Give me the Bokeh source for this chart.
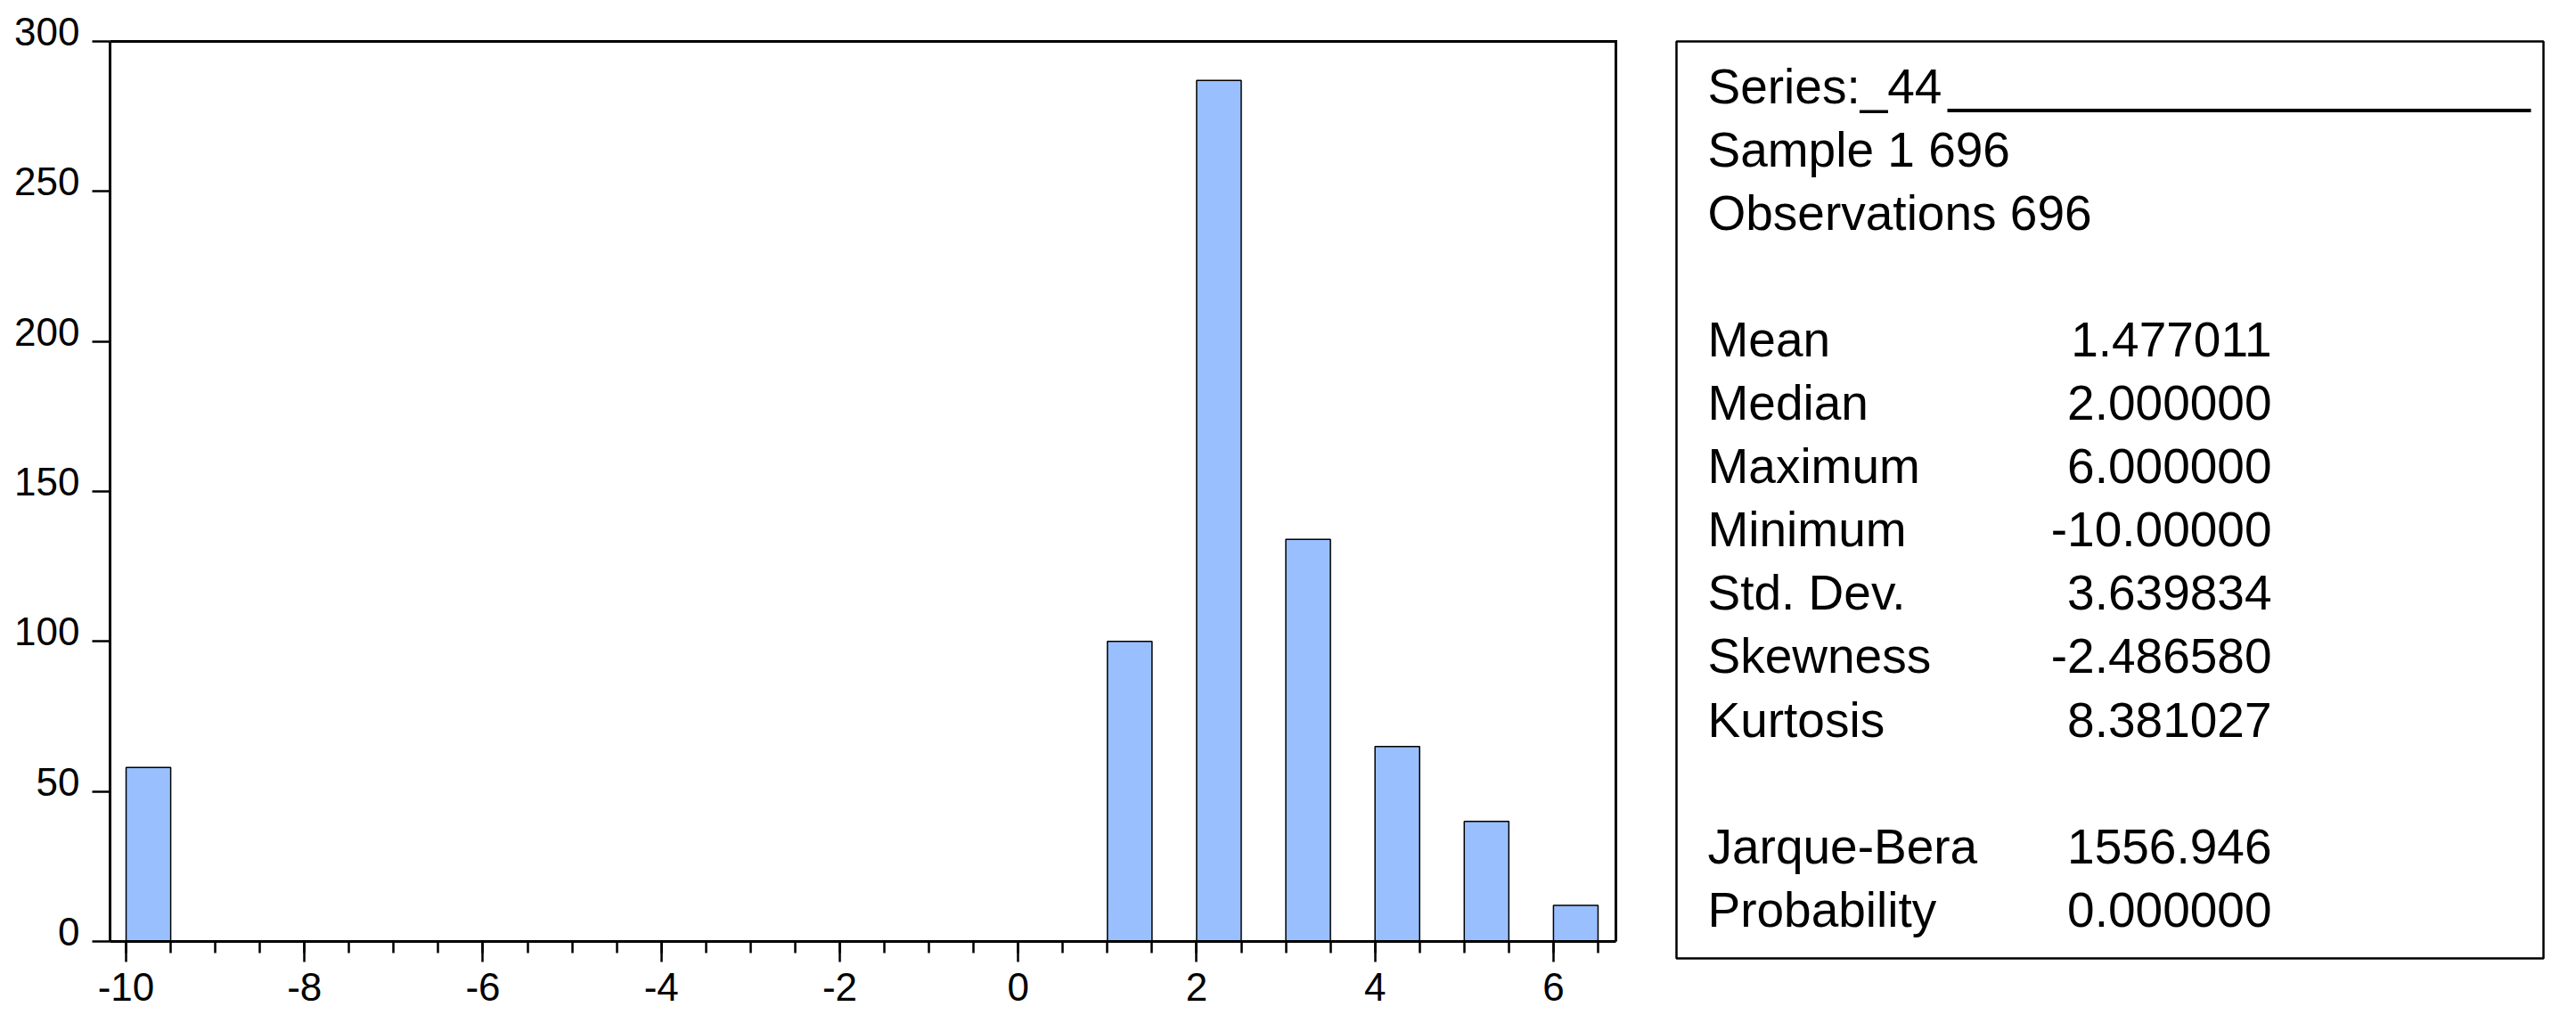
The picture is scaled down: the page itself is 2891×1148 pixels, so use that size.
from bokeh.plotting import figure
from bokeh.layouts import row
from bokeh.models import Range1d, FixedTicker, LinearAxis
from bokeh.core.properties import value
from bokeh.embed import file_html
from bokeh.resources import INLINE

# ---------------- data ----------------
bin_left = [-10, 1, 2, 3, 4, 5, 6]
counts = [58, 100, 287, 134, 65, 40, 12]
bin_width = 0.5

x_major_ticks = [-10, -8, -6, -4, -2, 0, 2, 4, 6]
x_minor_ticks = [-10 + 0.5 * i for i in range(34)]
y_ticks = [0, 50, 100, 150, 200, 250, 300]

header_lines = ["Series:_44", "Sample 1 696", "Observations 696"]
stat_labels = ["Mean", "Median", "Maximum", "Minimum", "Std. Dev.", "Skewness", "Kurtosis"]
stat_values = ["1.477011", "2.000000", "6.000000", "-10.00000", "3.639834", "-2.486580", "8.381027"]
test_labels = ["Jarque-Bera", "Probability"]
test_values = ["1556.946", "0.000000"]

# ---------------- styles ----------------
FONT = "Liberation Sans"
PANEL_FONT = "Liberation Sans"
PANEL_SIZE = "55px"
BAR_COLOR = "#99BFFF"

# ---------------- geometry ----------------
BOX_W, BOX_H = 1690, 1010      # visible plot box in px
TOP = 46
EXTRA_T, EXTRA_R = 40, 10      # invisible room above/right of the box (for the top tick label)
X0, X1 = -10.18, 6.70
Y0, Y1 = 0, 300
py = BOX_H / (Y1 - Y0)
px = BOX_W / (X1 - X0)

# ---------------- histogram ----------------
p1 = figure(
    frame_width=BOX_W + EXTRA_R, frame_height=BOX_H + EXTRA_T,
    min_border_left=123, min_border_right=35 - EXTRA_R, min_border_top=TOP - EXTRA_T,
    min_border_bottom=84,
    x_range=Range1d(X0, X1 + EXTRA_R / px), y_range=Range1d(Y0, Y1 + EXTRA_T / py),
    output_backend="svg", toolbar_location=None,
)
p1.quad(left=bin_left, right=[b + bin_width for b in bin_left], bottom=0, top=counts,
        fill_color=BAR_COLOR, line_color="black", line_width=1.5)

p1.grid.visible = False
p1.outline_line_color = None
p1.background_fill_color = "white"
p1.border_fill_color = "white"

# top and right sides of the box
p1.segment(x0=[X0, X1], y0=[Y1, Y0], x1=[X1, X1], y1=[Y1, Y1],
           line_color="black", line_width=3, line_cap="square")

p1.xaxis.ticker = FixedTicker(ticks=x_major_ticks, minor_ticks=x_minor_ticks)
p1.xaxis.major_label_overrides = {t: str(t) for t in x_major_ticks}
p1.xaxis.bounds = (X0, X1)
p1.yaxis.ticker = FixedTicker(ticks=y_ticks, minor_ticks=[])
p1.yaxis.major_label_overrides = {t: "" for t in y_ticks}
p1.yaxis.bounds = (Y0, Y1)
for ax in (p1.xaxis[0], p1.yaxis[0]):
    ax.axis_line_color = "black"
    ax.axis_line_width = 3
    ax.major_tick_line_color = "black"
    ax.major_tick_line_width = 2.5
    ax.major_tick_in = 0
    ax.minor_tick_line_color = "black"
    ax.minor_tick_line_width = 2.5
    ax.minor_tick_in = 0
    ax.major_label_text_font = FONT
    ax.major_label_text_font_size = "44px"
    ax.major_label_text_color = "black"
p1.xaxis.major_tick_out = 23
p1.xaxis.minor_tick_out = 13
p1.xaxis.major_label_standoff = 12
p1.yaxis.major_tick_out = 20
p1.yaxis.minor_tick_out = 0
p1.yaxis.major_label_standoff = 0

# y tick labels sit ~11px above their ticks in the original: label-only axis on a shifted range
shift = 11 / py
p1.extra_y_ranges = {"labels": Range1d(Y0 - shift, Y1 + EXTRA_T / py - shift)}
lab_axis = LinearAxis(
    y_range_name="labels", ticker=FixedTicker(ticks=y_ticks, minor_ticks=[]),
    axis_line_color=None, major_tick_line_color=None, minor_tick_line_color=None,
    major_tick_out=0, major_tick_in=0, minor_tick_out=0, minor_tick_in=0,
    major_label_standoff=14, major_label_text_font=FONT,
    major_label_text_font_size="44px", major_label_text_color="black",
)
p1.add_layout(lab_axis, "left")

# ---------------- statistics panel ----------------
FW, FH = 973, 1029     # box size in px; panel coordinates run down from the box's top-left
PAD = 5
p2 = figure(
    frame_width=FW + 2 * PAD, frame_height=FH + EXTRA_T + PAD,
    min_border_left=33 - PAD, min_border_right=29 - PAD, min_border_top=TOP - EXTRA_T,
    min_border_bottom=PAD,
    x_range=Range1d(-PAD, FW + PAD), y_range=Range1d(FH + PAD, -EXTRA_T),
    x_axis_type=None, y_axis_type=None,
    output_backend="svg", toolbar_location=None,
)
p2.grid.visible = False
p2.outline_line_color = None
p2.quad(left=[0], right=[FW], top=[0], bottom=[FH], fill_color=None,
        line_color="black", line_width=2.5)

row0, dy = 50.0, 71.1
label_x, value_x = 35, 668

lab_rows = [0, 1, 2]
p2.text(x=[label_x] * 3, y=[row0 + r * dy for r in lab_rows], text=header_lines,
        text_align="left", text_baseline="middle",
        text_font=value(PANEL_FONT), text_font_size=PANEL_SIZE, text_color="black")

stat_rows = list(range(4, 4 + len(stat_labels))) + [12, 13]
all_labels = stat_labels + test_labels
all_values = stat_values + test_values
p2.text(x=[label_x] * len(all_labels), y=[row0 + r * dy for r in stat_rows], text=all_labels,
        text_align="left", text_baseline="middle",
        text_font=value(PANEL_FONT), text_font_size=PANEL_SIZE, text_color="black")
p2.text(x=[value_x] * len(all_values), y=[row0 + r * dy for r in stat_rows], text=all_values,
        text_align="right", text_baseline="middle",
        text_font=value(PANEL_FONT), text_font_size=PANEL_SIZE, text_color="black")

# underline after the series name
p2.segment(x0=[304], y0=[77.5], x1=[959], y1=[77.5], line_color="black", line_width=4)

layout = row(p1, p2)
open("out.html", "w").write(file_html(layout, INLINE))
